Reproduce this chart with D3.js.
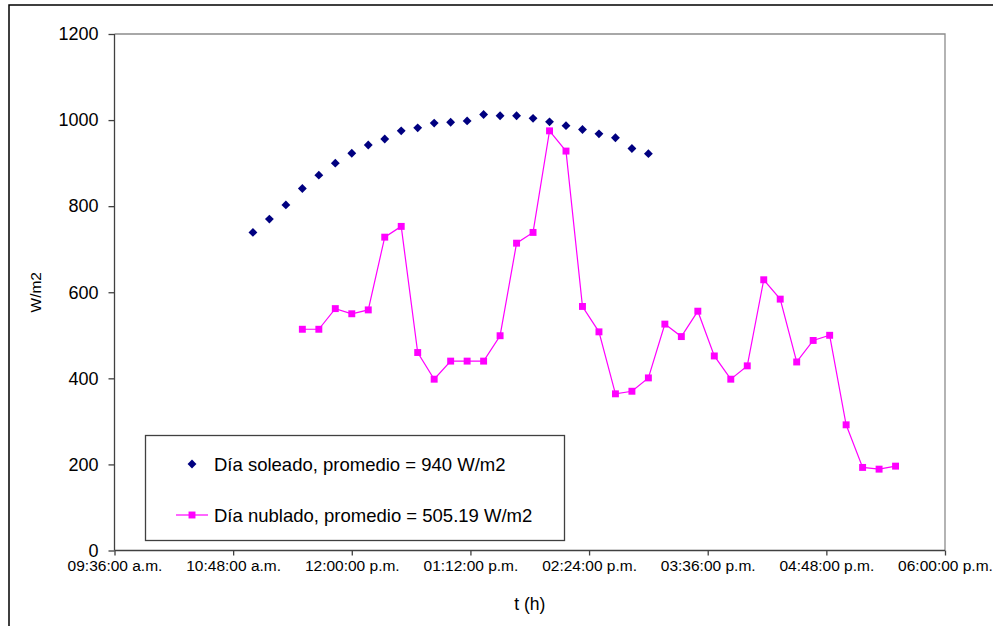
<!DOCTYPE html>
<html>
<head>
<meta charset="utf-8">
<script src="https://cdn.jsdelivr.net/npm/d3@7"></script>
<style>
  body { margin: 0; background: #fff; }
  svg { display: block; font-family: "Liberation Sans", Arial, sans-serif; }
</style>
</head>
<body>
<svg width="993" height="626"></svg>
<script>
/* ---------------------------- data ---------------------------- */
var sunnyTimes = ['11:00', '11:10', '11:20', '11:30', '11:40', '11:50', '12:00', '12:10', '12:20',
  '12:30', '12:40', '12:50', '13:00', '13:10', '13:20', '13:30', '13:40', '13:50', '14:00',
  '14:10', '14:20', '14:30', '14:40', '14:50', '15:00'];
var sunnyValues = [739, 770, 803, 841, 872, 900, 923, 942, 956, 975, 982, 993, 995, 998, 1013,
  1010, 1010, 1004, 996, 987, 978, 968, 959, 934, 922];

var cloudyTimes = ['11:30', '11:40', '11:50', '12:00', '12:10', '12:20', '12:30', '12:40', '12:50',
  '13:00', '13:10', '13:20', '13:30', '13:40', '13:50', '14:00', '14:10', '14:20', '14:30',
  '14:40', '14:50', '15:00', '15:10', '15:20', '15:30', '15:40', '15:50', '16:00', '16:10',
  '16:20', '16:30', '16:40', '16:50', '17:00', '17:10', '17:20', '17:30'];
var cloudyValues = [514, 514, 562, 550, 559, 728, 753, 460, 398, 440, 440, 440, 499, 714, 739,
  975, 928, 567, 508, 364, 370, 401, 526, 497, 556, 452, 398, 429, 629, 584, 438, 488, 500,
  292, 193, 189, 196];

var xTickTimes = ['09:36', '10:48', '12:00', '13:12', '14:24', '15:36', '16:48', '18:00'];
var yTicks = [0, 200, 400, 600, 800, 1000, 1200];

var legendLabels = ['Día soleado, promedio = 940 W/m2', 'Día nublado, promedio = 505.19 W/m2'];

/* --------------------------- config --------------------------- */
var plot = { left: 114.5, right: 945, top: 34, bottom: 550.5 };
var sunnyColor = '#000080', cloudyColor = '#ff00ff';

var parseTime = d3.timeParse('%H:%M');
function fmtTime(d) {
  return d3.timeFormat('%I:%M:%S')(d) + (d.getHours() < 12 ? ' a.m.' : ' p.m.');
}

var svg = d3.select('svg');

// outer chart frame (right and bottom edge lie outside the picture)
svg.append('rect')
  .attr('x', 9).attr('y', 5)
  .attr('width', 1000).attr('height', 640)
  .attr('fill', 'none').attr('stroke', '#000').attr('stroke-width', 1.5);

/* --------------------------- scales --------------------------- */
var x = d3.scaleTime()
  .domain([parseTime('09:36'), parseTime('18:00')])
  .range([plot.left, plot.right]);
var y = d3.scaleLinear()
  .domain([0, 1200])
  .range([plot.bottom, plot.top]);

// plot area border top/right in grey
svg.append('path')
  .attr('d', 'M' + plot.left + ',' + plot.top + 'H' + plot.right + 'V' + plot.bottom)
  .attr('fill', 'none').attr('stroke', '#8c8c8c').attr('stroke-width', 1.3);

/* ---------------------------- axes ---------------------------- */
var xAxis = d3.axisBottom(x)
  .tickValues(xTickTimes.map(parseTime))
  .tickFormat(fmtTime)
  .tickSize(5).tickPadding(4);
var gx = svg.append('g')
  .attr('transform', 'translate(0,' + plot.bottom + ')')
  .call(xAxis);
gx.select('.domain').attr('d', 'M' + plot.left + ',0H' + plot.right);

var yAxis = d3.axisLeft(y)
  .tickValues(yTicks)
  .tickFormat(d3.format('d'))
  .tickSize(6).tickPadding(10);
var gy = svg.append('g')
  .attr('transform', 'translate(' + plot.left + ',0)')
  .call(yAxis);
gy.select('.domain').attr('d', 'M0,' + plot.top + 'V' + plot.bottom);

svg.selectAll('g').attr('font-family', null).attr('font-size', null);
svg.selectAll('.domain, .tick line').attr('stroke', '#404040').attr('stroke-width', 1.3);
gx.selectAll('.tick text').attr('font-size', 15.5).attr('fill', '#000');
gy.selectAll('.tick text').attr('font-size', 18).attr('fill', '#000');

// axis titles
svg.append('text')
  .attr('x', (plot.left + plot.right) / 2).attr('y', 610)
  .attr('text-anchor', 'middle').attr('font-size', 17.5)
  .text('t (h)');
svg.append('text')
  .attr('transform', 'translate(41,' + (plot.top + plot.bottom) / 2 + ') rotate(-90)')
  .attr('text-anchor', 'middle').attr('font-size', 15.5)
  .text('W/m2');

/* ---------------------------- marks ---------------------------- */
var sunny = sunnyTimes.map(function (t, i) { return { t: parseTime(t), v: sunnyValues[i] }; });
var cloudy = cloudyTimes.map(function (t, i) { return { t: parseTime(t), v: cloudyValues[i] }; });

var line = d3.line()
  .x(function (d) { return x(d.t); })
  .y(function (d) { return y(d.v); });

svg.append('path')
  .datum(cloudy)
  .attr('d', line)
  .attr('fill', 'none').attr('stroke', cloudyColor).attr('stroke-width', 1.2);

var diamond = d3.symbol().type(d3.symbolDiamond2).size(50);
var square = d3.symbol().type(d3.symbolSquare).size(48);

svg.append('g').selectAll('path')
  .data(sunny).enter().append('path')
  .attr('d', diamond)
  .attr('transform', function (d) { return 'translate(' + x(d.t) + ',' + y(d.v) + ')'; })
  .attr('fill', sunnyColor);

svg.append('g').selectAll('path')
  .data(cloudy).enter().append('path')
  .attr('d', square)
  .attr('transform', function (d) { return 'translate(' + x(d.t) + ',' + y(d.v) + ')'; })
  .attr('fill', cloudyColor);

/* --------------------------- legend --------------------------- */
var legend = svg.append('g');
legend.append('rect')
  .attr('x', 145.5).attr('y', 435.5).attr('width', 419).attr('height', 105)
  .attr('fill', '#fff').attr('stroke', '#404040').attr('stroke-width', 1.3);

legend.append('path')
  .attr('d', diamond)
  .attr('transform', 'translate(192,464)')
  .attr('fill', sunnyColor);
legend.append('line')
  .attr('x1', 176).attr('x2', 208).attr('y1', 515).attr('y2', 515)
  .attr('stroke', cloudyColor).attr('stroke-width', 1.2);
legend.append('path')
  .attr('d', square)
  .attr('transform', 'translate(192,515)')
  .attr('fill', cloudyColor);

legend.selectAll('text.lbl')
  .data(legendLabels).enter().append('text')
  .attr('class', 'lbl')
  .attr('x', 214)
  .attr('y', function (d, i) { return 470.5 + i * 51; })
  .attr('font-size', 18.5)
  .text(function (d) { return d; });
</script>
</body>
</html>
